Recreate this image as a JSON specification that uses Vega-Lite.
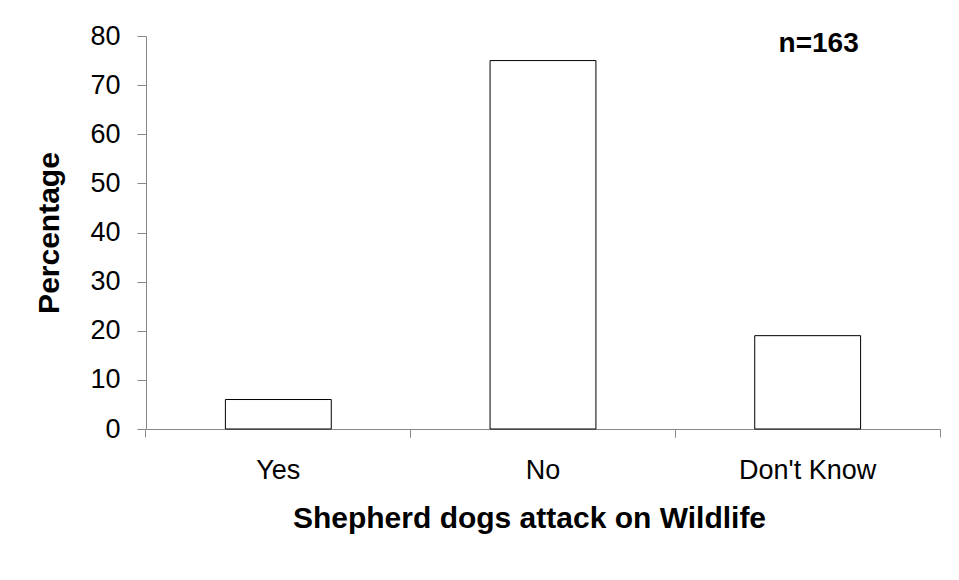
{
  "$schema": "https://vega.github.io/schema/vega-lite/v6.json",
  "width": 794,
  "height": 393,
  "autosize": "none",
  "padding": {"left": 146, "top": 36, "right": 19, "bottom": 151},
  "background": "white",
  "config": {
    "view": {"stroke": null},
    "font": "Liberation Sans",
    "axis": {"labelFont": "Liberation Sans", "titleFont": "Liberation Sans", "labelColor": "black", "titleColor": "black", "domainColor": "#888888", "tickColor": "#888888", "grid": false}
  },
  "datasets": {
    "bars": [
      {"answer": "Yes", "percentage": 6},
      {"answer": "No", "percentage": 75},
      {"answer": "Don't Know", "percentage": 19}
    ],
    "note": [
      {"answer": "Don't Know", "percentage": 78.4, "label": "n=163"}
    ]
  },
  "layer": [
    {
      "data": {"name": "bars"},
      "mark": {"type": "bar", "fill": "white", "stroke": "black", "strokeWidth": 1},
      "encoding": {
        "x": {
          "field": "answer", "type": "nominal", "sort": ["Yes", "No", "Don't Know"],
          "scale": {"paddingInner": 0.6, "paddingOuter": 0.3},
          "axis": {"orient": "bottom", "labelAngle": 0, "labelFontSize": 27, "labelPadding": 20, "tickSize": 8, "bandPosition": -0.75,
            "title": "Shepherd dogs attack on Wildlife", "titleFontSize": 30, "titleFontWeight": "bold", "titlePadding": 20, "titleX": 383}
        },
        "y": {
          "field": "percentage", "type": "quantitative",
          "scale": {"domain": [0, 80]},
          "axis": {"values": [0, 10, 20, 30, 40, 50, 60, 70, 80], "labelFontSize": 27, "tickSize": 9, "labelPadding": 17,
            "title": "Percentage", "titleFontSize": 30, "titleFontWeight": "bold", "titlePadding": 25}
        }
      }
    },
    {
      "data": {"name": "note"},
      "mark": {"type": "text", "fontSize": 28, "fontWeight": "bold", "dx": 11, "baseline": "middle", "align": "center"},
      "encoding": {
        "x": {"field": "answer", "type": "nominal", "sort": ["Yes", "No", "Don't Know"],
          "axis": {"orient": "bottom", "labels": false, "title": null, "domain": false, "tickSize": 8, "bandPosition": 1.75}},
        "y": {"field": "percentage", "type": "quantitative"},
        "text": {"field": "label"}
      }
    }
  ],
  "resolve": {"axis": {"x": "independent"}}
}
